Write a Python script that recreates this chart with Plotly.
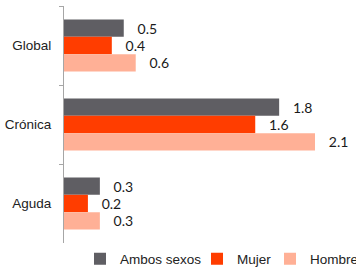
import plotly.graph_objects as go

categories = ["Global", "Crónica", "Aguda"]
ambos = [0.5, 1.8, 0.3]
mujer = [0.4, 1.6, 0.2]
hombre = [0.6, 2.1, 0.3]
series_names = ["Ambos sexos", "Mujer", "Hombre"]
colors = ["#5f5e63", "#ff3d00", "#ffb096"]
legend_ids = ["legend", "legend2", "legend3"]
legend_x = [0.0548, 0.4555, 0.7055]

fig = go.Figure()
for name, vals, col, lid in zip(series_names, [ambos, mujer, hombre], colors, legend_ids):
    fig.add_trace(go.Bar(
        y=categories, x=vals, name=name, orientation="h",
        marker=dict(color=col, line=dict(width=0)),
        text=[f"{v:.1f}" for v in vals],
        texttemplate="\u00a0\u00a0\u00a0%{text}",
        textposition="outside",
        textfont=dict(family="Lato", size=14, color="#1a1a1a"),
        cliponaxis=False,
        legend=lid,
    ))

legend_style = dict(orientation="h", xanchor="left", y=-0.067, yanchor="middle",
                    font=dict(family="Liberation Sans", size=13.5, color="#222222"),
                    itemwidth=30, bgcolor="rgba(0,0,0,0)")

fig.update_layout(
    width=356, height=271,
    margin=dict(l=64, r=0, t=6, b=28, autoexpand=False),
    barmode="group", bargap=0.34, bargroupgap=0,
    plot_bgcolor="white", paper_bgcolor="white",
    font=dict(family="Liberation Sans", size=13.5, color="#222222"),
    showlegend=True,
    legend=dict(x=legend_x[0], **legend_style),
    legend2=dict(x=legend_x[1], **legend_style),
    legend3=dict(x=legend_x[2], **legend_style),
    xaxis=dict(range=[0, 2.443], visible=False, fixedrange=True),
    yaxis=dict(autorange="reversed", showline=True, linecolor="#a6a6a6", linewidth=1,
               ticks="outside", ticklen=4, tickcolor="#a6a6a6", tickson="boundaries",
               ticklabelstandoff=9, showgrid=False, automargin=False,
               tickfont=dict(family="Liberation Sans", size=13.5, color="#222222")),
)

fig.write_html("out.html", config={"displayModeBar": False},
               post_script="document.body.style.margin='0';document.body.style.overflow='hidden';")
